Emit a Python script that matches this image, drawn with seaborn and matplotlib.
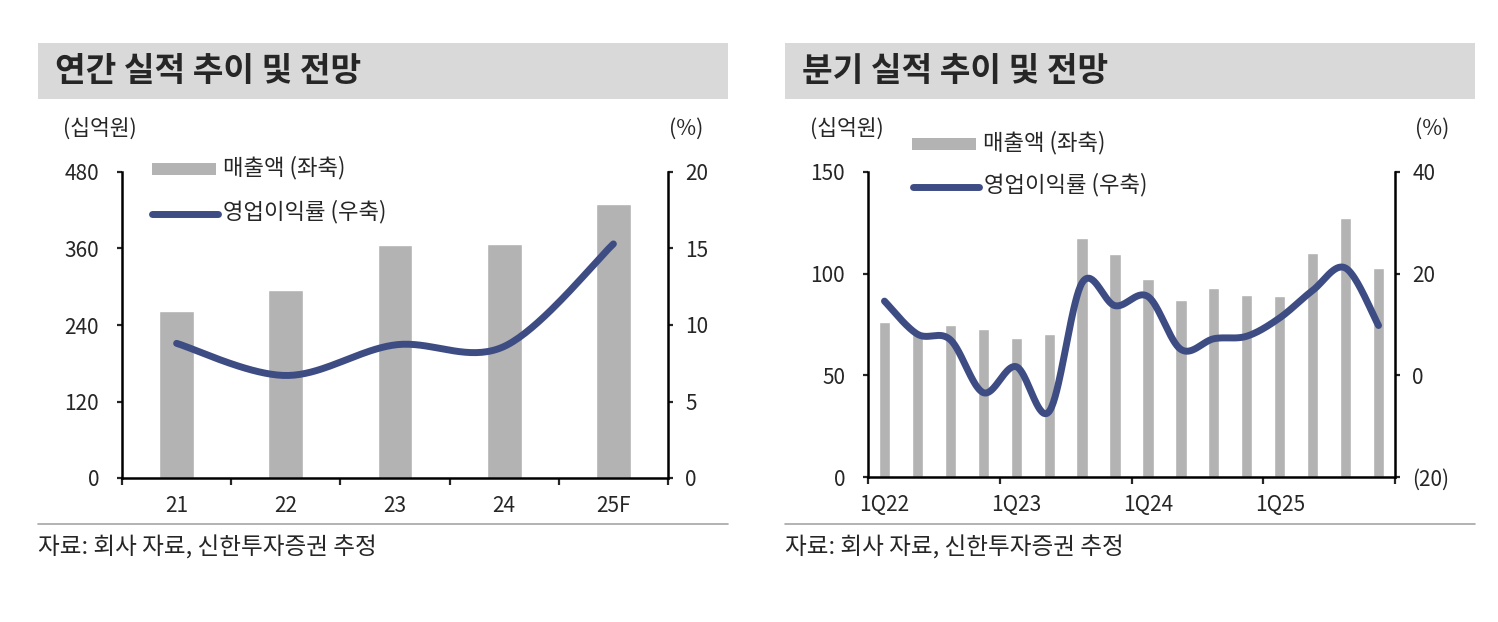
import numpy as np
import pandas as pd
import matplotlib
matplotlib.use("Agg")
import matplotlib.pyplot as plt
import seaborn as sns
from matplotlib.patches import Rectangle
from matplotlib.lines import Line2D
from matplotlib.ticker import FixedLocator, FuncFormatter, NullFormatter

# annual data
years = ['21', '22', '23', '24', '25F']
annual_sales = [262, 295, 365, 367, 430]
annual_margin = [8.8, 6.7, 8.7, 8.6, 15.3]

# quarterly data
quarters = ['1Q22', '2Q22', '3Q22', '4Q22', '1Q23', '2Q23', '3Q23', '4Q23',
            '1Q24', '2Q24', '3Q24', '4Q24', '1Q25', '2Q25', '3Q25', '4Q25']
quarter_sales = [76.4, 71.0, 74.8, 72.6, 68.2, 70.2, 117.4, 109.5,
                 97.2, 87.1, 93.1, 89.5, 89.0, 110.0, 127.5, 102.6]
quarter_margin = [14.6, 8.1, 7.0, -3.4, 1.7, -7.1, 18.2, 13.7,
                  15.5, 5.1, 7.2, 7.7, 11.3, 16.7, 21.1, 9.8]

BAR = '#b3b3b3'
LINE = '#3e4c84'
BAND = '#d9d9d9'
TICK_FS = 15

sns.set_style('ticks')
plt.rcParams['font.family'] = ['Noto Sans CJK KR', 'DejaVu Sans']
plt.rcParams['axes.unicode_minus'] = False


def smooth(ys, n=40):
    # excel-style smoothed line (bezier through the points)
    ys = np.asarray(ys, float)
    xs = np.arange(len(ys), dtype=float)
    px = np.r_[xs[0], xs, xs[-1]]
    py = np.r_[ys[0], ys, ys[-1]]
    t = np.linspace(0, 1, n)
    ox, oy = [], []
    for i in range(1, len(xs)):
        x0, x1, x2, x3 = px[i - 1], px[i], px[i + 1], px[i + 2]
        y0, y1, y2, y3 = py[i - 1], py[i], py[i + 1], py[i + 2]
        cx1, cy1 = x1 + (x2 - x0) / 6, y1 + (y2 - y0) / 6
        cx2, cy2 = x2 - (x3 - x1) / 6, y2 - (y3 - y1) / 6
        bx = (1 - t) ** 3 * x1 + 3 * (1 - t) ** 2 * t * cx1 + 3 * (1 - t) * t ** 2 * cx2 + t ** 3 * x2
        by = (1 - t) ** 3 * y1 + 3 * (1 - t) ** 2 * t * cy1 + 3 * (1 - t) * t ** 2 * cy2 + t ** 3 * y2
        ox.append(bx)
        oy.append(by)
    return np.concatenate(ox), np.concatenate(oy)


def pct_fmt(v, pos):
    v = int(round(v))
    return f'({abs(v)})' if v < 0 else f'{v}'


def draw_panel(fig, rect, cats, sales, margin, ylim1, yticks1, ylim2, yticks2,
               major_x, label_x, bar_w):
    ax = fig.add_axes(rect)
    df = pd.DataFrame({'cat': cats, 'sales': sales})
    sns.barplot(data=df, x='cat', y='sales', color=BAR, saturation=1,
                width=bar_w, ax=ax)
    ax.set_xlim(-0.5, len(cats) - 0.5)
    ax.set_ylim(*ylim1)
    ax.set_yticks(yticks1)
    ax.set_xlabel('')
    ax.set_ylabel('')
    ax.xaxis.set_major_locator(FixedLocator(major_x))
    ax.xaxis.set_major_formatter(NullFormatter())
    ax.xaxis.set_minor_locator(FixedLocator(label_x))
    ax.set_xticklabels([cats[i] for i in label_x], minor=True)
    ax.tick_params(axis='x', which='minor', length=0, pad=12, labelsize=TICK_FS)
    ax.tick_params(axis='x', which='major', length=5, width=1.6, direction='out')
    ax.tick_params(axis='y', length=3.5, width=1.6, direction='out', pad=13, labelsize=TICK_FS)
    for s in ['top', 'right']:
        ax.spines[s].set_visible(False)
    for s in ['left', 'bottom']:
        ax.spines[s].set_linewidth(1.8)
        ax.spines[s].set_color('black')

    ax2 = ax.twinx()
    sx, sy = smooth(margin)
    ax2.plot(sx, sy, color=LINE, lw=5, solid_capstyle='round')
    ax2.set_ylim(*ylim2)
    ax2.set_yticks(yticks2)
    ax2.yaxis.set_major_formatter(FuncFormatter(pct_fmt))
    ax2.tick_params(axis='y', length=3.5, width=1.6, direction='out', pad=9, labelsize=TICK_FS)
    for s in ['top', 'left', 'bottom']:
        ax2.spines[s].set_visible(False)
    ax2.spines['right'].set_linewidth(1.8)
    ax2.spines['right'].set_color('black')
    return ax, ax2


def px(x, y):
    return x / 1498, 1 - y / 622


fig = plt.figure(figsize=(14.98, 6.22), dpi=100)

# ---- left panel: annual
draw_panel(fig, [122 / 1498, 1 - 478 / 622, 546 / 1498, 306 / 622],
           years, annual_sales, annual_margin,
           (0, 480), [0, 120, 240, 360, 480], (0, 20), [0, 5, 10, 15, 20],
           np.arange(-0.5, 5, 1.0), list(range(5)), 0.32)

# ---- right panel: quarterly
draw_panel(fig, [868 / 1498, 1 - 477 / 622, 527 / 1498, 305 / 622],
           quarters, quarter_sales, quarter_margin,
           (0, 150), [0, 50, 100, 150], (-20, 40), [-20, 0, 20, 40],
           [-0.5, 3.5, 7.5, 11.5, 15.5], [0, 4, 8, 12], 0.34)

# headers, units, legends, sources
panels = [
    dict(x0=38, x1=728, title='연간 실적 추이 및 전망', unit_x=63, pct_x=703,
         leg=[(152, 169), (150, 214)]),
    dict(x0=785, x1=1475, title='분기 실적 추이 및 전망', unit_x=810, pct_x=1449,
         leg=[(912, 144), (911, 187)]),
]
for p in panels:
    x0, y0 = px(p['x0'], 99)
    x1, y1 = px(p['x1'], 43)
    fig.patches.append(Rectangle((x0, y0), x1 - x0, y1 - y0, transform=fig.transFigure,
                                 facecolor=BAND, edgecolor='none', zorder=0))
    fig.text(*px(p['x0'] + 17, 72), p['title'], fontsize=24, fontweight='bold',
             va='center', ha='left')
    fig.text(*px(p['unit_x'], 129), '(십억원)', fontsize=15.5, va='center', ha='left')
    fig.text(*px(p['pct_x'], 129), '(%)', fontsize=15.5, va='center', ha='right')

    (bx, by), (lx, ly) = p['leg']
    rx, ry = px(bx, by + 6)
    rw, rh = 64 / 1498, 12 / 622
    fig.patches.append(Rectangle((rx, ry), rw, rh, transform=fig.transFigure,
                                 facecolor=BAR, edgecolor='none'))
    fig.text(*px(bx + 71, by - 1), '매출액 (좌축)', fontsize=16, va='center', ha='left')
    fig.lines.append(Line2D([px(lx + 2, ly)[0], px(lx + 68, ly)[0]], [px(lx, ly)[1]] * 2,
                            transform=fig.transFigure, color=LINE, lw=5,
                            solid_capstyle='round'))
    fig.text(*px(lx + 73, ly - 2), '영업이익률 (우축)', fontsize=16, va='center', ha='left')

    sx0, sy0 = px(p['x0'], 524)
    sx1, _ = px(p['x1'], 524)
    fig.lines.append(Line2D([sx0, sx1], [sy0, sy0], transform=fig.transFigure,
                            color='#a6a6a6', lw=1.2))
    fig.text(*px(p['x0'], 548), '자료: 회사 자료, 신한투자증권 추정', fontsize=17,
             va='center', ha='left')

fig.savefig('out.png', dpi=100)
